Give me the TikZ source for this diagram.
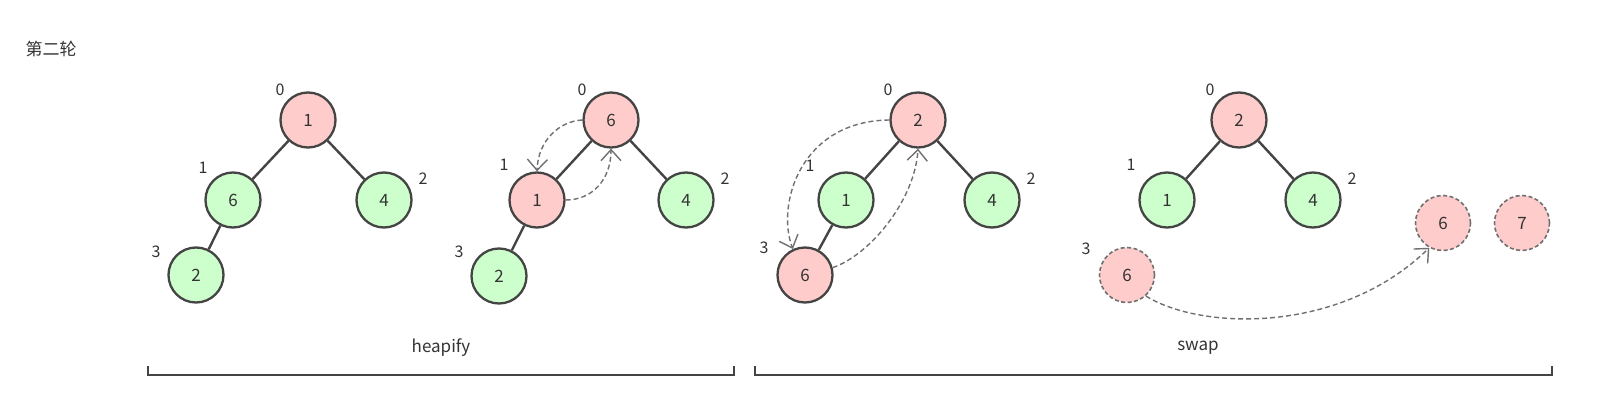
\documentclass[tikz,border=0pt]{standalone}
\usepackage{fontspec}
\setmainfont{Noto Sans CJK SC}
\usetikzlibrary{arrows.meta}
\definecolor{txt}{HTML}{333333}
\definecolor{edge}{HTML}{444444}
\definecolor{pinkf}{HTML}{FFCCCC}
\definecolor{greenf}{HTML}{CCFFCC}
\definecolor{dash}{HTML}{707070}
\tikzset{
  hnode/.style={circle, minimum size=55pt, inner sep=0pt, line width=2.3pt, draw=edge, text=txt, font=\fontsize{17}{19}\selectfont},
  pinknode/.style={hnode, fill=pinkf},
  greennode/.style={hnode, fill=greenf},
  ghost/.style={hnode, fill=pinkf, draw=dash, line width=1.6pt, dash pattern=on 4pt off 2.5pt},
  idx/.style={text=txt, font=\fontsize{16}{18}\selectfont, inner sep=0pt},
  tedge/.style={line width=2.4pt, draw=edge},
  swaparrow/.style={draw=dash, line width=1.4pt, dash pattern=on 5pt off 3pt, -{Straight Barb[length=11pt,width=20pt,line width=1.4pt]}},
  bracket/.style={line width=2.2pt, draw=edge},
  lbl/.style={text=txt, font=\fontsize{17}{19}\selectfont, inner sep=0pt}
}
\begin{document}
\begin{tikzpicture}[x=1pt,y=-1pt]
\useasboundingbox (0,0) rectangle (1606,412);
\node[lbl] (title) at (51,49) {第二轮};

% tree 1
\node[pinknode] (r1) at (308,120) {1};
\node[greennode] (a1) at (233,200) {6};
\node[greennode] (b1) at (384,200) {4};
\node[greennode] (c1) at (196,275) {2};
\draw[tedge] (r1) -- (a1);
\draw[tedge] (r1) -- (b1);
\draw[tedge] (a1) -- (c1);
\node[idx] (i10) at (280,90) {0};
\node[idx] (i11) at (203,168) {1};
\node[idx] (i12) at (423,179) {2};
\node[idx] (i13) at (156,252) {3};

% tree 2
\node[pinknode] (r2) at (611,120) {6};
\node[pinknode] (a2) at (537,200) {1};
\node[greennode] (b2) at (686,200) {4};
\node[greennode] (c2) at (499,276) {2};
\draw[tedge] (r2) -- (a2);
\draw[tedge] (r2) -- (b2);
\draw[tedge] (a2) -- (c2);
\node[idx] (i20) at (582,90) {0};
\node[idx] (i21) at (504,165) {1};
\node[idx] (i22) at (725,179) {2};
\node[idx] (i23) at (459,252) {3};
\draw[swaparrow] (r2.180) .. controls (560,121) and (538,140) .. (a2.north);
\draw[swaparrow] (a2.east) .. controls (592,200) and (611,180) .. (r2.south);

% tree 3
\node[pinknode] (r3) at (918,120) {2};
\node[greennode] (a3) at (846,200) {1};
\node[greennode] (b3) at (992,200) {4};
\node[pinknode] (c3) at (805,275) {6};
\draw[tedge] (r3) -- (a3);
\draw[tedge] (r3) -- (b3);
\draw[tedge] (a3) -- (c3);
\node[idx] (i30) at (888,90) {0};
\node[idx] (i31) at (810,166) {1};
\node[idx] (i32) at (1031,179) {2};
\node[idx] (i33) at (764,248) {3};
\draw[swaparrow] (r3.180) .. controls (800,121) and (776,205) .. (c3.115);
\draw[swaparrow] (c3.15) .. controls (870,255) and (915,200) .. (r3.south);

% tree 4
\node[pinknode] (r4) at (1239,120) {2};
\node[greennode] (a4) at (1167,200) {1};
\node[greennode] (b4) at (1313,200) {4};
\node[ghost] (c4) at (1127,275) {6};
\node[ghost] (d4) at (1443,223) {6};
\node[ghost] (e4) at (1522,223) {7};
\draw[tedge] (r4) -- (a4);
\draw[tedge] (r4) -- (b4);
\node[idx] (i40) at (1210,90) {0};
\node[idx] (i41) at (1131,165) {1};
\node[idx] (i42) at (1352,179) {2};
\node[idx] (i43) at (1086,249) {3};
\draw[swaparrow] (c4.-48) .. controls (1200,330) and (1340,335) .. (d4.-119);

% brackets
\node[lbl] (heap) at (441,348) {heapify};
\node[lbl] (swap) at (1198,348) {swap};
\draw[bracket] (148,366) -- (148,375) -- (734,375) -- (734,366);
\draw[bracket] (755,366) -- (755,375) -- (1552,375) -- (1552,366);
\end{tikzpicture}
\end{document}
